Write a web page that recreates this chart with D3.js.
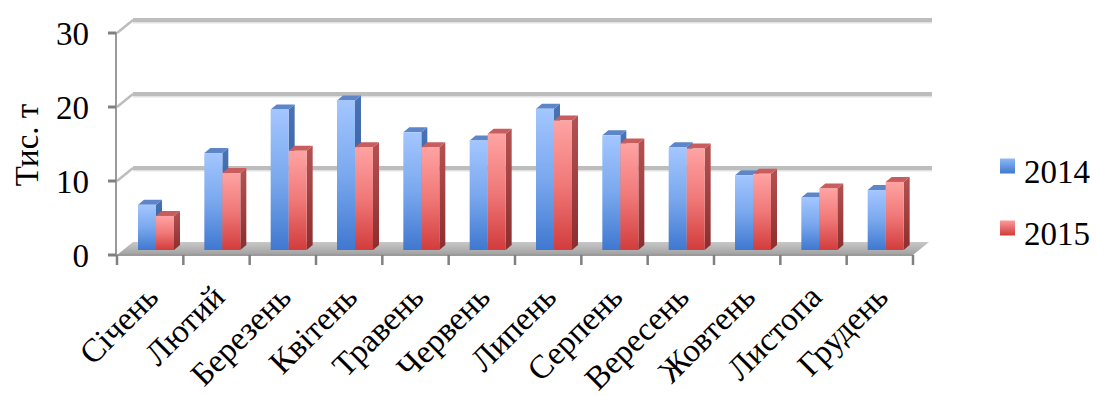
<!DOCTYPE html>
<html>
<head>
<meta charset="utf-8">
<script src="https://cdn.jsdelivr.net/npm/d3@7"></script>
<style>
  html, body { margin: 0; padding: 0; background: #ffffff; }
  svg { display: block; }
  text { font-family: "Liberation Serif", "Times New Roman", serif; fill: #000; }
</style>
</head>
<body>
<svg id="chart" width="1097" height="396"></svg>
<script>
// Monthly volumes, thousand tonnes
const months = ["Січень", "Лютий", "Березень", "Квітень", "Травень", "Червень",
                "Липень", "Серпень", "Вересень", "Жовтень", "Листопа", "Грудень"];
const series = ["2014", "2015"];
const values2014 = [6.1, 13.1, 19.0, 20.2, 15.9, 14.8, 19.1, 15.5, 13.9, 10.1, 7.1, 8.1];
const values2015 = [4.6, 10.4, 13.4, 13.9, 13.9, 15.7, 17.5, 14.4, 13.7, 10.3, 8.3, 9.2];
const yTicks = [0, 10, 20, 30];
const axisTitle = "Тис. т";

const svg = d3.select("#chart");
const defs = svg.append("defs");

// 3D projection offsets: wall depth and bar depth
const wall = { dx: 16, dy: -13 };
const barPlane = { dx: 6, dy: -5 };
const barDepth = { dx: 6, dy: -5 };

const x = d3.scaleBand().domain(months).range([117, 913]).padding(0);
const xs = d3.scaleBand().domain(series).range([15, 51]).padding(0);
const y = d3.scaleLinear().domain([0, 30]).range([255, 33]);

function grad(id, stops, vertical = true) {
  const g = defs.append("linearGradient").attr("id", id)
    .attr("x1", 0).attr("y1", 0).attr("x2", vertical ? 0 : 1).attr("y2", vertical ? 1 : 0);
  stops.forEach(([o, c]) => g.append("stop").attr("offset", o).attr("stop-color", c));
}
grad("blueFront", [[0, "#a3c6ff"], [0.5, "#7aa8ee"], [1, "#3f78d0"]]);
grad("redFront", [[0, "#ffa3a3"], [0.5, "#f07878"], [1, "#d23c3c"]]);
grad("blueSide", [[0, "#4a73b5"], [1, "#2c5494"]]);
grad("redSide", [[0, "#b45252"], [1, "#8c2e2e"]]);
grad("floorFill", [[0, "#c8c8c8"], [0.5, "#b4b4b4"], [1, "#a0a0a0"]]);
grad("legendBlue", [[0, "#8fb8f6"], [1, "#3f78d0"]]);
grad("legendRed", [[0, "#ff9a9a"], [1, "#d03a3a"]]);

const colors = {
  "2014": { front: "url(#blueFront)", side: "url(#blueSide)", top: "#5c86c9" },
  "2015": { front: "url(#redFront)", side: "url(#redSide)", top: "#c95c5c" }
};

// Back wall gridlines with left-wall connectors
const grid = svg.append("g");
yTicks.filter(v => v > 0).forEach(v => {
  const y0 = y(v);
  grid.append("line")
    .attr("x1", x.range()[0] + wall.dx).attr("x2", x.range()[1] + wall.dx + 3)
    .attr("y1", y0 + wall.dy + 2).attr("y2", y0 + wall.dy + 2)
    .attr("stroke", "#e2e2e2").attr("stroke-width", 3);
  grid.append("line")
    .attr("x1", x.range()[0] + wall.dx).attr("x2", x.range()[1] + wall.dx + 3)
    .attr("y1", y0 + wall.dy).attr("y2", y0 + wall.dy)
    .attr("stroke", "#bdbdbd").attr("stroke-width", 4);
  grid.append("line")
    .attr("x1", x.range()[0]).attr("y1", y0)
    .attr("x2", x.range()[0] + wall.dx).attr("y2", y0 + wall.dy)
    .attr("stroke", "#bdbdbd").attr("stroke-width", 2.5);
});

// Floor
const fx0 = x.range()[0], fx1 = x.range()[1], fy = y(0);
svg.append("polygon")
  .attr("points", [[fx0, fy], [fx1, fy], [fx1 + wall.dx, fy + wall.dy], [fx0 + wall.dx, fy + wall.dy]].map(p => p.join(",")).join(" "))
  .attr("fill", "url(#floorFill)");
svg.append("line")
  .attr("x1", fx0).attr("y1", fy).attr("x2", fx1).attr("y2", fy)
  .attr("stroke", "#9a9a9a").attr("stroke-width", 2);

// Bars
const barsG = svg.append("g");
months.forEach((m, i) => {
  const vals = { "2014": values2014[i], "2015": values2015[i] };
  series.forEach(s => {
    const v = vals[s];
    const x0 = x(m) + xs(s) + barPlane.dx;
    const w = xs.bandwidth();
    const yTop = y(v) + barPlane.dy;
    const yBot = y(0) + barPlane.dy;
    const c = colors[s];
    // side face
    barsG.append("polygon")
      .attr("points", [[x0 + w, yTop], [x0 + w + barDepth.dx, yTop + barDepth.dy],
        [x0 + w + barDepth.dx, yBot + barDepth.dy], [x0 + w, yBot]].map(p => p.join(",")).join(" "))
      .attr("fill", c.side);
    // top face
    barsG.append("polygon")
      .attr("points", [[x0, yTop], [x0 + barDepth.dx, yTop + barDepth.dy],
        [x0 + w + barDepth.dx, yTop + barDepth.dy], [x0 + w, yTop]].map(p => p.join(",")).join(" "))
      .attr("fill", c.top);
    // front face
    barsG.append("rect")
      .attr("x", x0).attr("y", yTop).attr("width", w).attr("height", yBot - yTop)
      .attr("fill", c.front);
  });
});

// Value axis
const axisG = svg.append("g");
axisG.append("line")
  .attr("x1", fx0 - 1).attr("x2", fx0 - 1).attr("y1", y(30) - 1).attr("y2", y(0) + 1)
  .attr("stroke", "#9a9a9a").attr("stroke-width", 2);
yTicks.forEach(v => {
  axisG.append("line")
    .attr("x1", fx0 - 9).attr("x2", fx0 - 1).attr("y1", y(v)).attr("y2", y(v))
    .attr("stroke", "#808080").attr("stroke-width", 3);
  axisG.append("text")
    .attr("x", 89).attr("y", y(v)).attr("dy", "0.35em")
    .attr("text-anchor", "end").attr("font-size", 33)
    .text(v);
});
svg.append("text")
  .attr("transform", `translate(38,145) rotate(-90)`)
  .attr("text-anchor", "middle").attr("font-size", 33)
  .text(axisTitle);

// Category axis ticks and labels
const tickXs = months.map(m => x(m)).concat([x.range()[1]]);
tickXs.forEach(tx => {
  svg.append("line")
    .attr("x1", tx).attr("x2", tx).attr("y1", y(0)).attr("y2", y(0) + 10)
    .attr("stroke", "#808080").attr("stroke-width", 2.5);
});
months.forEach(m => {
  const cx = x(m) + x.bandwidth() / 2 + 10;
  svg.append("text")
    .attr("transform", `translate(${cx},${y(0) + 44}) rotate(-45)`)
    .attr("text-anchor", "end").attr("font-size", 33)
    .text(m);
});

// Legend
const legend = svg.append("g").attr("transform", "translate(1000,0)");
[["2014", "url(#legendBlue)", 166], ["2015", "url(#legendRed)", 228]].forEach(([label, fill, cy]) => {
  legend.append("rect").attr("x", 0).attr("y", cy - 7.5).attr("width", 15).attr("height", 15).attr("fill", fill);
  legend.append("text").attr("x", 24).attr("y", cy + 5).attr("dy", "0.35em")
    .attr("font-size", 33).text(label);
});
</script>
</body>
</html>
